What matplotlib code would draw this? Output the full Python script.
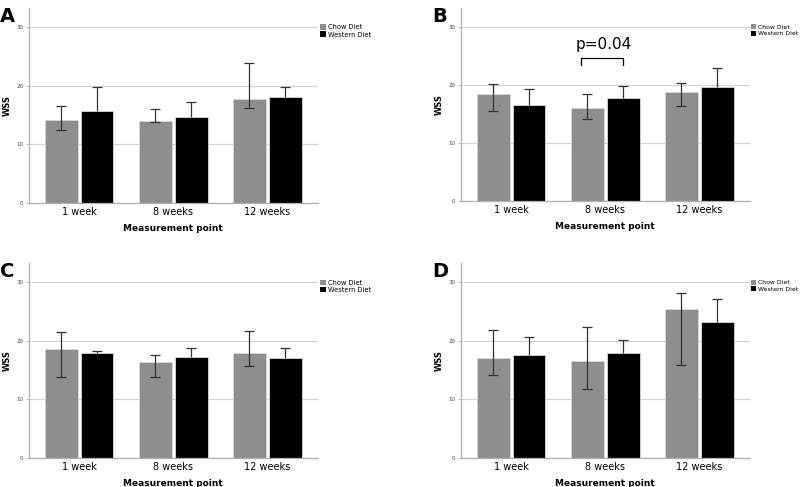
"""
WSS per measurement point, chow vs western diet (panels A-D).
"""
import numpy as np
import matplotlib
matplotlib.use("Agg")
import matplotlib.pyplot as plt
from matplotlib.patches import Patch

categories = ["1 week", "8 weeks", "12 weeks"]
panel_labels = ["A", "B", "C", "D"]

# mean values per panel
chow_mean = {
    "A": [14.2, 14.0, 17.7],
    "B": [18.4, 16.0, 18.8],
    "C": [18.6, 16.4, 18.0],
    "D": [17.1, 16.6, 25.4],
}
western_mean = {
    "A": [15.7, 14.6, 18.1],
    "B": [16.5, 17.7, 19.7],
    "C": [17.9, 17.2, 17.1],
    "D": [17.6, 17.9, 23.2],
}
# error bar bounds
chow_low = {
    "A": [12.5, 13.8, 16.2],
    "B": [15.6, 14.2, 16.4],
    "C": [13.9, 13.8, 15.7],
    "D": [14.1, 11.7, 15.9],
}
chow_high = {
    "A": [16.6, 16.1, 23.9],
    "B": [20.2, 18.4, 20.4],
    "C": [21.5, 17.6, 21.7],
    "D": [21.9, 22.4, 28.2],
}
# only the upper whisker shows above the black bars
western_high = {
    "A": [19.8, 17.3, 19.8],
    "B": [19.3, 19.9, 22.9],
    "C": [18.2, 18.7, 18.8],
    "D": [20.7, 20.1, 27.2],
}

CHOW = "#8e8e8e"
WESTERN = "#000000"
GRID = "#d4d4d4"
ERR = "#333333"

fig = plt.figure(figsize=(8, 4.87), dpi=100)

positions = {
    "A": [0.036, 0.583, 0.361, 0.401],
    "B": [0.576, 0.587, 0.361, 0.397],
    "C": [0.036, 0.0595, 0.361, 0.4005],
    "D": [0.576, 0.0595, 0.361, 0.4005],
}

x = np.arange(len(categories))
w = 0.35
off = 0.19
cap = 0.055

for p in panel_labels:
    ax = fig.add_axes(positions[p])
    cm = np.array(chow_mean[p])
    wm = np.array(western_mean[p])
    c_err = [cm - np.array(chow_low[p]), np.array(chow_high[p]) - cm]
    wh = np.array(western_high[p])

    ax.bar(x - off, cm, w, color=CHOW, edgecolor="#d8d8d8", linewidth=0.6, zorder=2)
    ax.bar(x + off, wm, w, color=WESTERN, edgecolor="#d8d8d8", linewidth=0.6, zorder=2)
    ax.errorbar(x - off, cm, yerr=c_err, fmt="none", ecolor=ERR, elinewidth=0.9,
                capsize=3.6, capthick=0.9, zorder=3)
    # upper whisker only for western bars
    ax.vlines(x + off, wm, wh, color=ERR, linewidth=0.9, zorder=3)
    ax.hlines(wh, x + off - cap, x + off + cap, color=ERR, linewidth=0.9, zorder=3)

    ax.set_xlim(-0.535, 2.535)
    ax.set_ylim(0, 33.3)
    ax.set_yticks([0, 10, 20, 30])
    ax.set_yticklabels(["0", "10", "20", "30"], fontsize=4, color="#444444")
    ax.yaxis.grid(True, color=GRID, linewidth=0.9, zorder=0)
    ax.set_axisbelow(True)
    ax.set_xticks(x)
    ax.set_xticklabels(categories, fontsize=7)
    ax.tick_params(axis="x", length=0, pad=3)
    ax.tick_params(axis="y", length=2, width=0.5, color="#999999", pad=2)
    for side in ["top", "right"]:
        ax.spines[side].set_visible(False)
    for side in ["left", "bottom"]:
        ax.spines[side].set_color("#b0b0b0")
        ax.spines[side].set_linewidth(0.9)
    ax.set_xlabel("Measurement point", fontsize=6.5, fontweight="bold", labelpad=5)
    ax.set_ylabel("WSS", fontsize=6, fontweight="bold", labelpad=3)

    handles = [Patch(facecolor=CHOW, label="Chow Diet"),
               Patch(facecolor=WESTERN, label="Western Diet")]
    right_col = p in ("B", "D")
    ax.legend(handles=handles, loc="upper left",
              bbox_to_anchor=(1.005 if right_col else 1.01, 0.915),
              frameon=False, fontsize=4.4 if right_col else 4.8,
              handlelength=0.8, handleheight=0.9,
              handletextpad=0.3, labelspacing=0.15, borderaxespad=0, borderpad=0)

    # panel letter
    bb = positions[p]
    fig.text(bb[0] - 0.036, bb[1] + bb[3] + 0.002, p, fontsize=14,
             fontweight="bold", ha="left", va="top")

    if p == "B":
        y_top = 24.7
        y_bot = 23.4
        ax.plot([1 - off - 0.07, 1 - off - 0.07, 1 + off, 1 + off],
                [y_bot, y_top, y_top, y_bot],
                color="black", linewidth=0.9, zorder=4)
        ax.text(1 - 0.02, 27.0, "p=0.04", fontsize=11, ha="center", va="center")

fig.savefig("out.png", dpi=100)
